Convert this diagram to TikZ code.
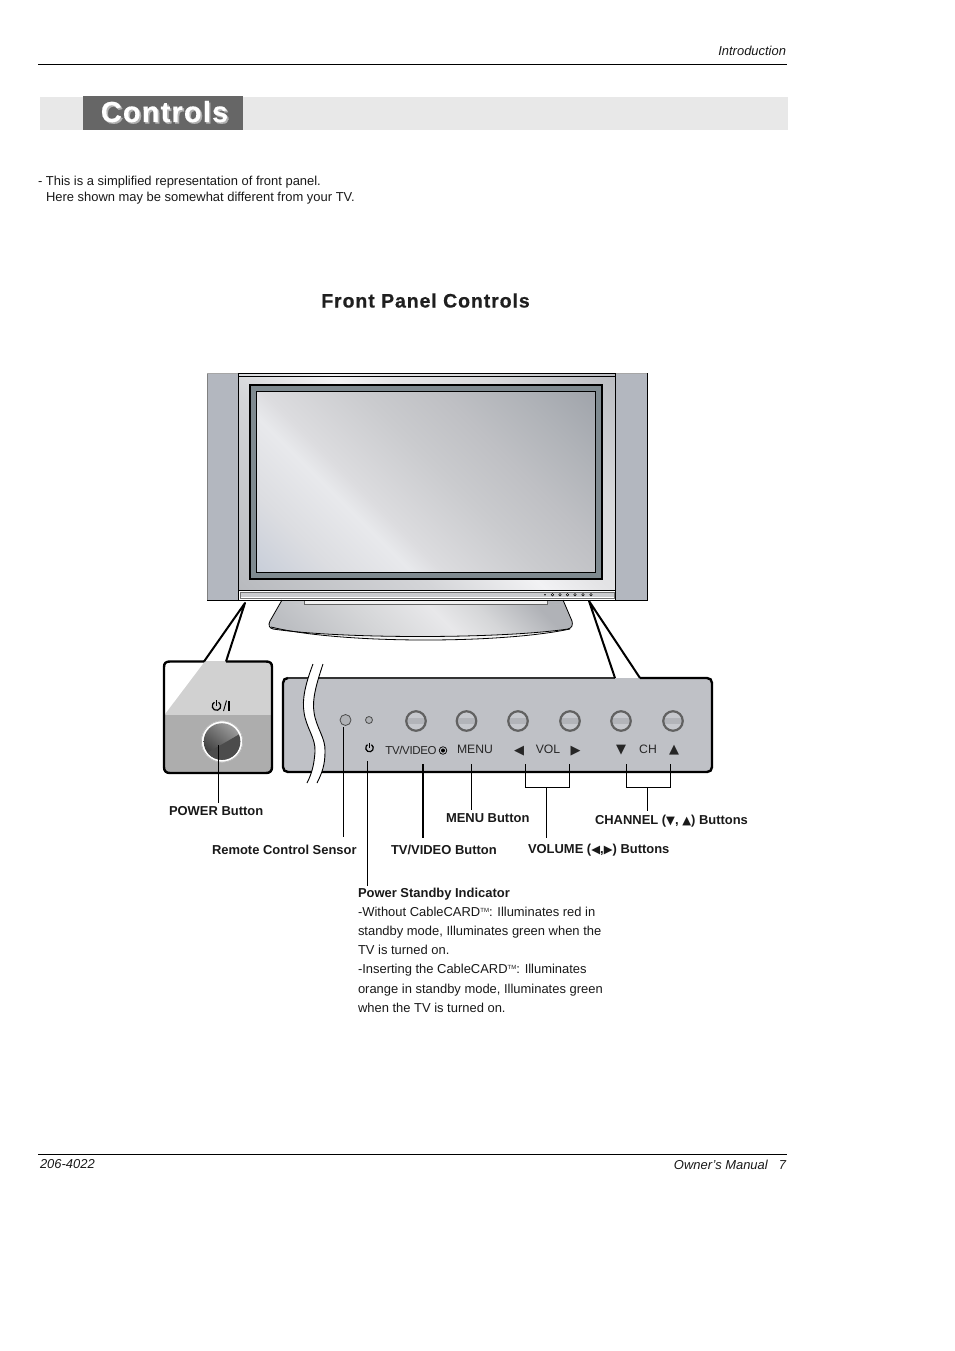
\documentclass[tikz,border=0pt]{standalone}
\usepackage{fontspec}
\setmainfont{Liberation Sans}
\newfontfamily\symf{DejaVu Sans}
\usetikzlibrary{calc}
\definecolor{sa}{HTML}{C8CED9}\definecolor{sb}{HTML}{DCDDE1}\definecolor{sc}{HTML}{E8E9EC}\definecolor{sd}{HTML}{DCDCDF}
\definecolor{se}{HTML}{CACBCE}\definecolor{sf}{HTML}{BFC0C4}\definecolor{sg}{HTML}{B0B3B8}\definecolor{sh}{HTML}{A0A4AB}
\definecolor{ba}{HTML}{B8BABE}\definecolor{bb}{HTML}{D4D5D8}\definecolor{bc}{HTML}{F2F2F4}\definecolor{bd}{HTML}{E4E4E6}
\definecolor{be}{HTML}{D8D9DB}\definecolor{bf}{HTML}{BBBDC2}
\definecolor{ta}{HTML}{BCBEC2}\definecolor{tb}{HTML}{D5D6D8}\definecolor{tc}{HTML}{E8E8EA}\definecolor{td}{HTML}{B0B2B7}
\pgfdeclarehorizontalshading{screenshade}{100bp}{color(0bp)=(sa);color(25bp)=(sa);color(32.5bp)=(sb);color(40bp)=(sc);color(43bp)=(sd);color(52.5bp)=(se);color(60bp)=(sf);color(67.5bp)=(sg);color(75bp)=(sh);color(100bp)=(sh)}
\pgfdeclarehorizontalshading{bezelshade}{100bp}{color(0bp)=(ba);color(25bp)=(ba);color(41.5bp)=(bb);color(51bp)=(bc);color(56bp)=(bd);color(64bp)=(be);color(75bp)=(bf);color(100bp)=(bf)}
\pgfdeclarehorizontalshading{standshade}{100bp}{color(0bp)=(ta);color(34bp)=(ta);color(44bp)=(tb);color(52.6bp)=(tc);color(58bp)=(tb);color(65bp)=(td);color(100bp)=(td)}
\definecolor{spk}{HTML}{B3B7BF}
\definecolor{panelc}{HTML}{BFC1C6}
\definecolor{btnband}{HTML}{B2B4B9}
\definecolor{btnfill}{HTML}{C6C8CD}
\definecolor{band}{HTML}{E8E8E8}
\definecolor{titlebg}{HTML}{666666}
\definecolor{framec}{HTML}{7F8A90}
\definecolor{stripc}{HTML}{CBCCCF}
\tikzset{
 txt/.style={anchor=base west,inner sep=0pt,outer sep=0pt,font=\fontsize{12.95}{15}\selectfont,text=black!90},
 rtxt/.style={txt,anchor=base east,font=\fontsize{12.95}{15}\selectfont\itshape},
 lab/.style={txt,font=\fontsize{12.95}{15}\selectfont\bfseries},
 ptxt/.style={anchor=center,inner sep=0pt,font=\fontsize{12.2}{15}\selectfont,text=black!85},
 tri/.style={anchor=center,inner sep=0pt,font=\fontsize{13}{15}\selectfont\symf,text=black!85},
 rulel/.style={line width=0.8pt,black},
 conn/.style={line width=0.9pt,black},
 connb/.style={line width=1.6pt,black},
 pbtn/.style={circle,draw=black!62,line width=2.2pt,minimum size=19.5pt,inner sep=0pt,fill=btnfill,
   path picture={\fill[btnband] ($(path picture bounding box.west)+(0,-3.3)$) rectangle ($(path picture bounding box.east)+(0,3.3)$);}},
 outl/.style={line width=2.4pt,black,line join=round},
 smallc/.style={circle,draw=black!70,fill=panelc!92!black,line width=0.8pt,inner sep=0pt},
}
\newcommand{\tm}{\raisebox{3.6pt}{\fontsize{6}{6}\selectfont TM}}
\newcommand{\ilt}[1]{{\symf\fontsize{11.5}{12}\selectfont #1}}
\begin{document}
\begin{tikzpicture}[x=1pt,y=-1pt]
\useasboundingbox (0,0) rectangle (954,1351);
\fill[white] (0,0) rectangle (954,1351);
% header
\node[rtxt] (intro) at (786,55.5) {Introduction};
\coordinate (r1a) at (38,64.8); \coordinate (r1b) at (787,64.8);
\draw[rulel] (r1a) -- (r1b);
\fill[band] (40,97) rectangle (788,130);
\fill[titlebg] (83,96) rectangle (243,130);
\node[txt,font=\fontsize{29}{30}\selectfont\bfseries,text=white,anchor=base] (title) at (164.5,122) {\addfontfeatures{LetterSpace=4,FakeBold=0.4}\rlap{\kern1.6pt\raisebox{-1.6pt}{\textcolor{black!30}{Controls}}}Controls};
\node[txt] (note1) at (38,185.5) {- This is a simplified representation of front panel.};
\node[txt] (note2) at (46,201.5) {Here shown may be somewhat different from your TV.};
\node[txt,font=\fontsize{19.5}{21}\selectfont\bfseries,anchor=base,text=black!88] (fpc) at (425.5,307.5) {\addfontfeatures{LetterSpace=4.7,FakeBold=0.6}Front Panel Controls};
% stand
\begin{scope}
\clip (282,600) -- (270,621) .. controls (268,625) and (269,628) .. (273,629) .. controls (340,639) and (500,639) .. (568,629) .. controls (572,628) and (573,625) .. (572,621) -- (563,600) -- cycle;
\shade[shading=standshade,shading angle=45] (265.5,465) rectangle (575.5,775);
\end{scope}
\path[fill=white!92!gray] (273,629) .. controls (340,639) and (500,639) .. (568,629) .. controls (500,643) and (340,643) .. (273,629) -- cycle;
\draw[line width=0.8pt] (282,600) -- (270,621) .. controls (268,625) and (269,628) .. (273,629) .. controls (340,639) and (500,639) .. (568,629) .. controls (572,628) and (573,625) .. (572,621) -- (563,600);
\draw[line width=0.8pt] (271,627) .. controls (340,644) and (500,644) .. (570,629);
\fill[white!90!gray,draw=black!60,line width=0.6pt] (304,600) rectangle (547,604);
% speakers
\fill[spk] (207,373) rectangle (238.5,600);
\fill[spk] (615,373) rectangle (647,600);
\draw[black!50,line width=0.9pt] (207.5,373) -- (207.5,600);
\draw[black,line width=1pt] (207,600.5) -- (647,600.5) -- (647,373);
\draw[black!35,line width=0.8pt] (207,373) -- (238,373);
\draw[black!35,line width=0.8pt] (615,373) -- (647,373);
% bezel
\begin{scope}
\clip (238.5,374) rectangle (615,590.5);
\shade[shading=bezelshade,shading angle=45] (217.3,272.8) rectangle (636.7,692.2);
\end{scope}
\draw[black,line width=0.9pt] (238.5,373.6) rectangle (615,590.5);
\draw[black,line width=0.6pt] (238.5,376) -- (615,376);
\draw[black,line width=1.4pt] (238.5,590.3) -- (615,590.3);
\fill[stripc,draw=black!55,line width=0.6pt] (240,592) rectangle (614,598.5);
\draw[white,line width=0.7pt] (240.5,597.8) -- (613.5,597.8);
\draw[black,line width=0.7pt] (238.5,590) -- (238.5,600) (615,590) -- (615,600);
% screen
\fill[framec,draw=black,line width=2pt] (250,385) rectangle (602,578.5);
\begin{scope}
\clip (256.5,391.5) rectangle (595.5,572.5);
\shade[shading=screenshade,shading angle=45] (241.9,298) rectangle (610.1,666);
\end{scope}
\draw[black,line width=1.1pt] (256.5,391.5) rectangle (595.5,572.5);
% LEDs on strip
\fill[black] (545,594.7) circle (0.9);
\foreach \x in {552.5,560,567.5,575,583,591}{\draw[black,line width=0.5pt,fill=white] (\x,594.7) circle (1.3);}
% left callout
\path[fill=band!90!black] (170,661) -- (266,661) .. controls (270,661) and (272,663) .. (272,667) -- (272,715) -- (164,715) -- (164,667) .. controls (164,663) and (166,661) .. (170,661) -- cycle;
\path[fill=white] (170,661) -- (205,661) -- (165,714) -- (164,715) -- (164,667) .. controls (164,663) and (166,661) .. (170,661) -- cycle;
\path[fill=black!32] (164,715) -- (272,715) -- (272,767) .. controls (272,771) and (270,773) .. (266,773) -- (170,773) .. controls (166,773) and (164,771) .. (164,767) -- cycle;
\coordinate (lapex) at (245,603);
\coordinate (lc1) at (204,661.5);
\coordinate (lc2) at (226,661.5);
\draw[outl] (lc2) -- (266,661.5) .. controls (270,661.5) and (272,663) .. (272,667) -- (272,767) .. controls (272,771) and (270,773) .. (266,773) -- (170,773) .. controls (166,773) and (164,771) .. (164,767) -- (164,667) .. controls (164,663) and (166,661.5) .. (170,661.5) -- (lc1);
\draw[outl,line width=2pt] (lc1) -- (lapex) -- (lc2);
% power glyph on left panel
\draw[line width=1.2pt,black] (218.65,702.3) arc (-60:240:4.3);
\draw[line width=1.2pt,black] (216.5,700) -- (216.5,706);
\draw[line width=0.9pt,black] (223.5,711) -- (226.5,700.5);
\draw[line width=1.3pt,black] (229,701) -- (229,710.5);
% knob
\fill[white] (222,741.5) circle (20.8);
\draw[black!30,line width=0.7pt] (222,741.5) circle (20.6);
\node[circle,minimum size=36.5pt,inner sep=0pt,outer sep=0pt] (knob) at (222,741.5) {};
\begin{scope}
\clip (222,741.5) circle (18.3);
\shade[top color=black!38,bottom color=black!78,shading angle=-40] (203,722) rectangle (241,761);
\fill[black!70] (200,757) -- (245,731) -- (245,765) -- (200,765) -- cycle;
\end{scope}
% right panel
\coordinate (rapex) at (589,601);
\coordinate (rc1) at (615,678);
\coordinate (rc2) at (640,678);
\path[fill=panelc] (288,678) -- (707,678) .. controls (710,678) and (712,680) .. (712,683) -- (712,767) .. controls (712,770) and (710,772) .. (707,772) -- (288,772) .. controls (285,772) and (283,770) .. (283,767) -- (283,683) .. controls (283,680) and (285,678) .. (288,678) -- cycle;
\draw[outl] (rc2) -- (707,678) .. controls (710,678) and (712,680) .. (712,683) -- (712,767) .. controls (712,770) and (710,772) .. (707,772) -- (288,772) .. controls (285,772) and (283,770) .. (283,767) -- (283,683) .. controls (283,680) and (285,678) .. (288,678);
\draw[line width=1.5pt,black!80] (288,678) -- (rc1);
\draw[outl,line width=2pt] (rc1) -- (rapex) -- (rc2);
% break
\fill[white] (313,664) .. controls (305,685) and (302,700) .. (304,712) .. controls (306,728) and (316,738) .. (315,752) .. controls (314,765) and (312,773) .. (307,783) -- (317,783) .. controls (322,773) and (325,765) .. (325,752) .. controls (326,738) and (316,728) .. (314,712) .. controls (312,700) and (316,685) .. (323,664) -- cycle;
\draw[line width=0.9pt] (313,664) .. controls (305,685) and (302,700) .. (304,712) .. controls (306,728) and (316,738) .. (315,752) .. controls (314,765) and (312,773) .. (307,783);
\draw[line width=0.9pt] (323,664) .. controls (316,685) and (312,700) .. (314,712) .. controls (316,728) and (326,738) .. (325,752) .. controls (325,765) and (322,773) .. (317,783);
% sensor + led
\node[smallc,minimum size=11pt] (sensor) at (345.5,720) {};
\node[smallc,minimum size=7pt] (led) at (369,720) {};
% buttons
\node[pbtn] (b1) at (416,721) {};
\node[pbtn] (b2) at (466.5,721) {};
\node[pbtn] (b3) at (518,721) {};
\node[pbtn] (b4) at (570,721) {};
\node[pbtn] (b5) at (621,721) {};
\node[pbtn] (b6) at (673,721) {};
% panel captions
\draw[line width=1.2pt,black] (371.4,744.7) arc (-60:240:3.8);
\draw[line width=1.2pt,black] (369.5,742.8) -- (369.5,748);
\node[ptxt,font=\fontsize{11.5}{13}\selectfont] (ltv) at (411,750.5) {\addfontfeatures{LetterSpace=-3}TV/VIDEO};
\draw[line width=0.7pt,black] (443,750.5) circle (3.8);
\fill[black] (443,750.5) circle (2);
\node[ptxt] (lmenu) at (475,749.5) {MENU};
\node[tri] (lvl) at (519,751) {◀};
\node[ptxt] (lvol) at (548,749.5) {VOL};
\node[tri] (lvr) at (575.5,751) {▶};
\node[tri] (lcd) at (621,750.5) {▼};
\node[ptxt] (lch) at (648,749.5) {CH};
\node[tri] (lcu) at (674,750.5) {▲};
% labels
\node[lab] (tpower) at (169,815) {POWER Button};
\node[lab] (trc) at (212,854) {Remote Control Sensor};
\node[lab] (ttv) at (391,854) {TV/VIDEO Button};
\node[lab] (tmenu) at (446,822) {MENU Button};
\node[lab] (tvol) at (528,853) {VOLUME (\ilt{◀},\ilt{▶}) Buttons};
\node[lab] (tch) at (595,824) {CHANNEL (\ilt{▼}, \ilt{▲}) Buttons};
% connector ends
\coordinate (cp) at (218,745);  \coordinate (cpe) at (218,803);
\coordinate (cr) at (343,727);  \coordinate (cre) at (343,837);
\coordinate (cs) at (367.5,761); \coordinate (cse) at (367.5,886);
\coordinate (ct) at (423,764);  \coordinate (cte) at (423,838);
\coordinate (cm) at (471.5,764); \coordinate (cme) at (471.5,810);
\coordinate (cv1) at (525.5,764); \coordinate (cv2) at (569.5,764);
\coordinate (cvj) at (546.5,787); \coordinate (cve) at (546.5,838);
\coordinate (cc1) at (626.5,764); \coordinate (cc2) at (670.5,764);
\coordinate (ccj) at (647.5,787); \coordinate (cce) at (647.5,811);
\draw[conn] (cp) -- (cpe);
\draw[conn] (cr) -- (cre);
\draw[conn] (cs) -- (cse);
\draw[connb] (ct) -- (cte);
\draw[conn] (cm) -- (cme);
\draw[conn] (cv1) |- (cv2 |- cvj) -- (cv2);
\draw[conn] (cvj) -- (cve);
\draw[conn] (cc1) |- (cc2 |- ccj) -- (cc2);
\draw[conn] (ccj) -- (cce);
% indicator text
\node[lab] (s0) at (358,897) {Power Standby Indicator};
\node[txt] (s1) at (358,916) {-Without CableCARD\tm: Illuminates red in};
\node[txt] (s2) at (358,935) {standby mode, Illuminates green when the};
\node[txt] (s3) at (358,954) {TV is turned on.};
\node[txt] (s4) at (358,973) {-Inserting the CableCARD\tm: Illuminates};
\node[txt] (s5) at (358,993) {orange in standby mode, Illuminates green};
\node[txt] (s6) at (358,1012) {when the TV is turned on.};
% footer
\coordinate (r2a) at (38,1154.6); \coordinate (r2b) at (787,1154.6);
\draw[rulel] (r2a) -- (r2b);
\node[txt,font=\fontsize{12.95}{15}\selectfont\itshape] (code) at (40,1168.5) {206-4022};
\node[rtxt] (own) at (786,1169.5) {Owner’s Manual\hspace{0.85em}7};
\end{tikzpicture}
\end{document}
